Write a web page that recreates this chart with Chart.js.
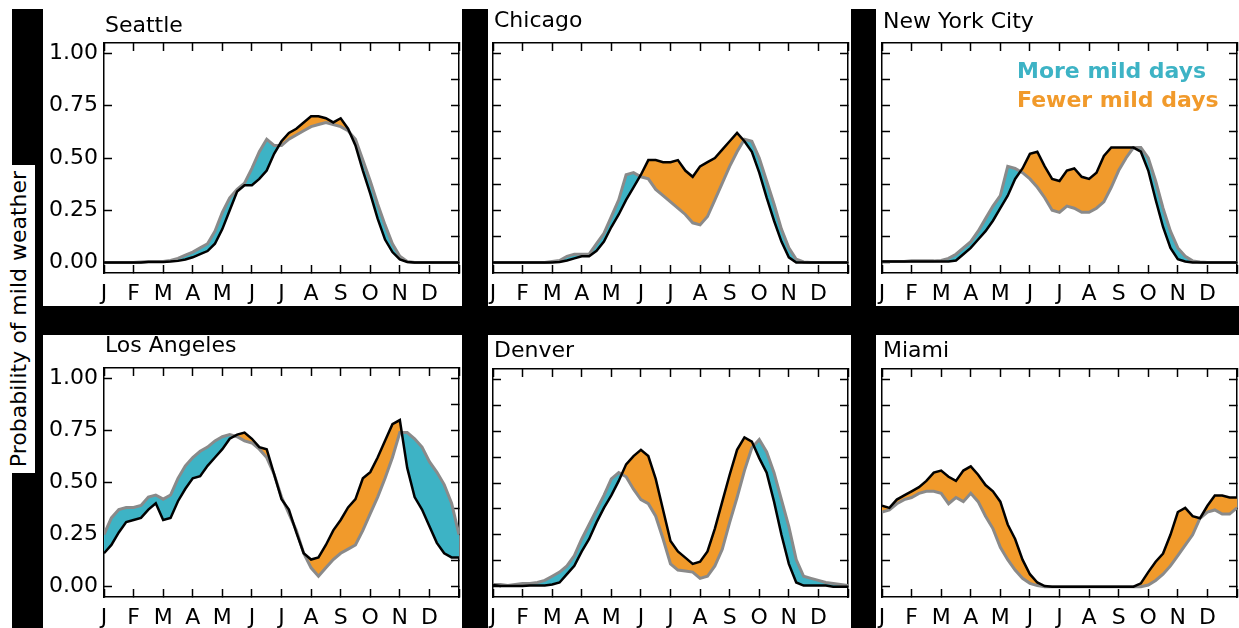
<!DOCTYPE html>
<html>
<head>
<meta charset="utf-8">
<script src="https://cdn.jsdelivr.net/npm/chart.js@4.4.1/dist/chart.umd.min.js"></script>
<style>
  html, body { margin: 0; padding: 0; background: #fff; }
  body { width: 1239px; height: 628px; position: relative; overflow: hidden; font-family: 'DejaVu Sans', sans-serif; }
  .bar { position: absolute; background: #000; }
  .panel { position: absolute; background: #fff; }
  #ylabel { position: absolute; left: 0; top: 165px; width: 35px; height: 308px; background: #fff; }
  #ylabel span { position: absolute; left: 50%; top: 50%; transform: translate(-50%, -50%) rotate(-90deg); white-space: nowrap; font-size: 22px; color: #000; }
</style>
</head>
<body>
<div class="bar" style="left:12px; top:9px; width:31px; height:619px;"></div>
<div class="bar" style="left:462px; top:9px; width:26px; height:619px;"></div>
<div class="bar" style="left:851px; top:9px; width:25px; height:619px;"></div>
<div class="bar" style="left:12px; top:306px; width:1227px; height:29px;"></div>
<div id="ylabel"><span>Probability of mild weather</span></div>

<canvas id="seattle" class="panel" width="419" height="297" style="left:43px; top:9px;"></canvas>
<canvas id="chicago" class="panel" width="363" height="297" style="left:488px; top:9px;"></canvas>
<canvas id="nyc" class="panel" width="363" height="297" style="left:876px; top:9px;"></canvas>
<canvas id="losangeles" class="panel" width="419" height="293" style="left:43px; top:335px;"></canvas>
<canvas id="denver" class="panel" width="363" height="293" style="left:488px; top:335px;"></canvas>
<canvas id="miami" class="panel" width="363" height="293" style="left:876px; top:335px;"></canvas>

<script>
// x positions in months (0 = 1 Jan, 12 = 31 Dec), quarter-month steps
const months = [0, 0.25, 0.5, 0.75, 1, 1.25, 1.5, 1.75, 2, 2.25, 2.5, 2.75, 3, 3.25, 3.5, 3.75,
  4, 4.25, 4.5, 4.75, 5, 5.25, 5.5, 5.75, 6, 6.25, 6.5, 6.75, 7, 7.25, 7.5, 7.75,
  8, 8.25, 8.5, 8.75, 9, 9.25, 9.5, 9.75, 10, 10.25, 10.5, 10.75, 11, 11.25, 11.5, 11.75, 12];

const monthTicks = [0, 1, 2, 3, 4, 5, 6, 7, 8, 9, 10, 11, 12];
const monthLabels = ['J', 'F', 'M', 'A', 'M', 'J', 'J', 'A', 'S', 'O', 'N', 'D', ''];
const probTicks = [0, 0.125, 0.25, 0.375, 0.5, 0.625, 0.75, 0.875, 1];
const probLabels = ['0.00', '', '0.25', '', '0.50', '', '0.75', '', '1.00'];

// black line (observed) and gray line (projected)
const seattleObserved = [0, 0, 0, 0, 0, 0, 0.003, 0.003, 0.003, 0.005, 0.008, 0.015, 0.025, 0.04, 0.055, 0.09,
  0.16, 0.25, 0.34, 0.37, 0.37, 0.40, 0.44, 0.52, 0.58, 0.62, 0.64, 0.67, 0.70, 0.70, 0.69, 0.67,
  0.69, 0.64, 0.56, 0.44, 0.33, 0.21, 0.11, 0.05, 0.015, 0.003, 0, 0, 0, 0, 0, 0, 0];
const seattleProjected = [0, 0, 0, 0, 0, 0.003, 0.005, 0.005, 0.005, 0.01, 0.02, 0.035, 0.05, 0.07, 0.09, 0.15,
  0.24, 0.31, 0.35, 0.38, 0.45, 0.53, 0.59, 0.56, 0.56, 0.59, 0.61, 0.63, 0.65, 0.66, 0.67, 0.66,
  0.65, 0.63, 0.59, 0.49, 0.39, 0.28, 0.18, 0.09, 0.03, 0.005, 0, 0, 0, 0, 0, 0, 0];

const chicagoObserved = [0, 0, 0, 0, 0, 0, 0, 0, 0, 0.003, 0.01, 0.02, 0.03, 0.03, 0.056, 0.1,
  0.17, 0.23, 0.30, 0.36, 0.42, 0.49, 0.49, 0.48, 0.48, 0.49, 0.44, 0.41, 0.46, 0.48, 0.50, 0.54,
  0.58, 0.62, 0.58, 0.53, 0.43, 0.31, 0.20, 0.10, 0.025, 0, 0, 0, 0, 0, 0, 0, 0];
const chicagoProjected = [0, 0, 0, 0, 0, 0, 0, 0, 0.005, 0.01, 0.03, 0.04, 0.04, 0.04, 0.09, 0.14,
  0.22, 0.30, 0.42, 0.43, 0.41, 0.40, 0.35, 0.32, 0.29, 0.26, 0.23, 0.19, 0.18, 0.22, 0.30, 0.38,
  0.46, 0.53, 0.59, 0.58, 0.50, 0.39, 0.28, 0.16, 0.07, 0.016, 0.003, 0, 0, 0, 0, 0, 0];

const nycObserved = [0.005, 0.005, 0.005, 0.005, 0.005, 0.005, 0.005, 0.005, 0.005, 0.005, 0.01, 0.04, 0.07, 0.11, 0.15, 0.20,
  0.26, 0.32, 0.40, 0.45, 0.52, 0.53, 0.46, 0.40, 0.39, 0.44, 0.45, 0.41, 0.40, 0.43, 0.51, 0.55,
  0.55, 0.55, 0.55, 0.53, 0.44, 0.30, 0.17, 0.07, 0.016, 0.005, 0, 0, 0, 0, 0, 0, 0];
const nycProjected = [0.005, 0.005, 0.005, 0.005, 0.008, 0.008, 0.008, 0.008, 0.01, 0.02, 0.04, 0.07, 0.10, 0.15, 0.21, 0.27,
  0.32, 0.46, 0.45, 0.43, 0.40, 0.36, 0.31, 0.25, 0.24, 0.27, 0.26, 0.24, 0.24, 0.26, 0.29, 0.36,
  0.44, 0.50, 0.55, 0.55, 0.50, 0.39, 0.26, 0.15, 0.07, 0.03, 0.008, 0.003, 0, 0, 0, 0, 0];

const laObserved = [0.16, 0.20, 0.26, 0.31, 0.32, 0.33, 0.37, 0.40, 0.32, 0.33, 0.41, 0.47, 0.52, 0.53, 0.58, 0.62,
  0.66, 0.71, 0.73, 0.74, 0.71, 0.67, 0.66, 0.54, 0.42, 0.37, 0.26, 0.16, 0.13, 0.14, 0.20, 0.27,
  0.32, 0.38, 0.42, 0.52, 0.55, 0.62, 0.70, 0.78, 0.80, 0.57, 0.43, 0.37, 0.29, 0.21, 0.16, 0.14, 0.14];
const laProjected = [0.25, 0.33, 0.37, 0.38, 0.38, 0.39, 0.43, 0.44, 0.42, 0.44, 0.52, 0.58, 0.62, 0.65, 0.67, 0.70,
  0.72, 0.73, 0.72, 0.70, 0.69, 0.66, 0.62, 0.54, 0.43, 0.35, 0.27, 0.16, 0.09, 0.05, 0.09, 0.13,
  0.16, 0.18, 0.20, 0.27, 0.35, 0.43, 0.52, 0.62, 0.74, 0.74, 0.71, 0.67, 0.60, 0.55, 0.49, 0.40, 0.25];

const denverObserved = [0.008, 0.003, 0.003, 0.003, 0.003, 0.005, 0.005, 0.005, 0.01, 0.02, 0.06, 0.10, 0.17, 0.23, 0.31, 0.38,
  0.44, 0.51, 0.59, 0.63, 0.66, 0.63, 0.52, 0.37, 0.22, 0.17, 0.14, 0.11, 0.12, 0.17, 0.28, 0.41,
  0.54, 0.66, 0.72, 0.70, 0.62, 0.55, 0.41, 0.25, 0.11, 0.02, 0.005, 0.005, 0.005, 0.005, 0, 0, 0];
const denverProjected = [0.01, 0.01, 0.005, 0.01, 0.015, 0.015, 0.02, 0.03, 0.05, 0.07, 0.10, 0.15, 0.23, 0.30, 0.37, 0.44,
  0.52, 0.55, 0.53, 0.47, 0.42, 0.40, 0.34, 0.23, 0.11, 0.08, 0.075, 0.07, 0.04, 0.05, 0.10, 0.18,
  0.31, 0.43, 0.56, 0.67, 0.71, 0.65, 0.55, 0.42, 0.29, 0.13, 0.05, 0.04, 0.03, 0.02, 0.015, 0.01, 0.005];

const miamiObserved = [0.39, 0.38, 0.42, 0.44, 0.46, 0.48, 0.51, 0.55, 0.56, 0.53, 0.51, 0.56, 0.58, 0.54, 0.49, 0.46,
  0.41, 0.30, 0.23, 0.13, 0.06, 0.02, 0.003, 0, 0, 0, 0, 0, 0, 0, 0, 0,
  0, 0, 0, 0.016, 0.07, 0.12, 0.16, 0.25, 0.36, 0.38, 0.34, 0.33, 0.39, 0.44, 0.44, 0.43, 0.43];
const miamiProjected = [0.36, 0.37, 0.40, 0.42, 0.43, 0.45, 0.46, 0.46, 0.45, 0.40, 0.43, 0.41, 0.45, 0.41, 0.34, 0.28,
  0.19, 0.13, 0.08, 0.04, 0.016, 0.005, 0, 0, 0, 0, 0, 0, 0, 0, 0, 0,
  0, 0, 0, 0, 0.008, 0.03, 0.06, 0.10, 0.15, 0.20, 0.25, 0.33, 0.36, 0.37, 0.35, 0.35, 0.38];

const TEAL = '#3db3c5';
const ORANGE = '#f19a2b';
const GRAY = '#8a8a8a';
const FONT = 'DejaVu Sans';

const toPoints = (values) => values.map((v, i) => ({ x: months[i], y: v }));

// panel title drawn just above the plot box
const titlePlugin = {
  id: 'panelTitle',
  afterDraw(chart, args, opts) {
    const { ctx, chartArea } = chart;
    ctx.save();
    ctx.font = `22px "${FONT}"`;
    ctx.fillStyle = '#000';
    ctx.textAlign = 'left';
    ctx.textBaseline = 'alphabetic';
    ctx.fillText(opts.text, chartArea.left + 1, chartArea.top - opts.gap);
    (opts.notes || []).forEach((n) => {
      ctx.font = `bold 22px "${FONT}"`;
      ctx.fillStyle = n.color;
      ctx.fillText(n.text, n.x, n.y);
    });
    ctx.restore();
  }
};

const inwardGrid = { drawOnChartArea: false, tickLength: -8, tickColor: '#000', tickWidth: 1.5 };
const axisBorder = { color: '#000', width: 1.5 };

// keep tick label overhang from shrinking the plot box
const noOverhang = (s) => {
  s.paddingLeft = 0; s.paddingRight = 0; s.paddingTop = 0; s.paddingBottom = 0;
};

const makePanel = (id, title, observed, projected, layout) => {
  const tickFont = { family: FONT, size: 22 };
  return new Chart(document.getElementById(id), {
    type: 'line',
    data: {
      datasets: [
        {
          label: 'projected',
          data: toPoints(projected),
          borderColor: GRAY,
          borderWidth: 3,
          pointRadius: 0,
          tension: 0,
          fill: { target: 1, above: TEAL, below: ORANGE },
          order: 1
        },
        {
          label: 'observed',
          data: toPoints(observed),
          borderColor: '#000',
          borderWidth: 2.5,
          pointRadius: 0,
          tension: 0,
          fill: false,
          order: 0
        }
      ]
    },
    options: {
      responsive: false,
      animation: false,
      events: [],
      layout: { padding: { top: layout.top, left: layout.left, right: layout.right, bottom: 0 } },
      plugins: {
        legend: { display: false },
        tooltip: { enabled: false },
        panelTitle: { text: title, gap: layout.titleGap, notes: layout.notes }
      },
      scales: {
        x: {
          type: 'linear', position: 'bottom', min: 0, max: 12,
          afterBuildTicks: (s) => { s.ticks = monthTicks.map((v) => ({ value: v })); },
          afterFit: (s) => { s.height = layout.xHeight; noOverhang(s); },
          ticks: { autoSkip: false, maxRotation: 0, color: '#000', font: tickFont, padding: 16,
            callback: (v, i) => monthLabels[i] },
          grid: inwardGrid, border: axisBorder
        },
        xTop: {
          type: 'linear', position: 'top', min: 0, max: 12,
          afterBuildTicks: (s) => { s.ticks = monthTicks.map((v) => ({ value: v })); },
          afterFit: (s) => { s.height = 0; noOverhang(s); },
          ticks: { display: false },
          grid: inwardGrid, border: axisBorder
        },
        y: {
          type: 'linear', position: 'left', min: -0.05, max: 1.05,
          afterBuildTicks: (s) => { s.ticks = probTicks.map((v) => ({ value: v })); },
          afterFit: (s) => { s.width = layout.yWidth; noOverhang(s); },
          ticks: { display: layout.yWidth > 0, color: '#000', font: tickFont, padding: 14,
            callback: (v, i) => probLabels[i] },
          grid: inwardGrid, border: axisBorder
        },
        yRight: {
          type: 'linear', position: 'right', min: -0.05, max: 1.05,
          afterBuildTicks: (s) => { s.ticks = probTicks.map((v) => ({ value: v })); },
          afterFit: (s) => { s.width = 0; noOverhang(s); },
          ticks: { display: false },
          grid: inwardGrid, border: axisBorder
        }
      }
    },
    plugins: [titlePlugin]
  });
};

const legendNotes = [
  { text: 'More mild days', color: TEAL, x: 141, y: 69 },
  { text: 'Fewer mild days', color: ORANGE, x: 141, y: 98 }
];

makePanel('seattle', 'Seattle', seattleObserved, seattleProjected,
  { top: 34, left: 0, right: 3, yWidth: 61, xHeight: 33, titleGap: 11 });
makePanel('chicago', 'Chicago', chicagoObserved, chicagoProjected,
  { top: 34, left: 5, right: 3, yWidth: 0, xHeight: 33, titleGap: 16 });
makePanel('nyc', 'New York City', nycObserved, nycProjected,
  { top: 34, left: 6, right: 2, yWidth: 0, xHeight: 33, titleGap: 15, notes: legendNotes });
makePanel('losangeles', 'Los Angeles', laObserved, laProjected,
  { top: 33, left: 0, right: 3, yWidth: 61, xHeight: 31, titleGap: 16 });
makePanel('denver', 'Denver', denverObserved, denverProjected,
  { top: 34, left: 5, right: 3, yWidth: 0, xHeight: 31, titleGap: 12 });
makePanel('miami', 'Miami', miamiObserved, miamiProjected,
  { top: 34, left: 6, right: 2, yWidth: 0, xHeight: 31, titleGap: 12 });
</script>
</body>
</html>
